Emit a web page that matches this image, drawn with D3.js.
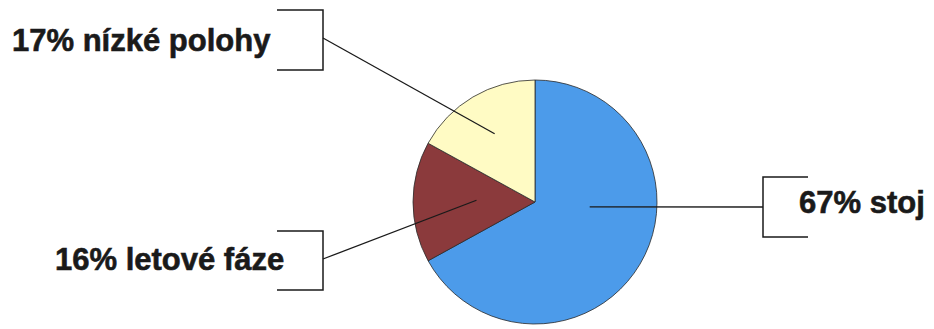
<!DOCTYPE html>
<html>
<head>
<meta charset="utf-8">
<script src="https://cdn.jsdelivr.net/npm/d3@7"></script>
<style>
  html, body { margin: 0; padding: 0; background: #ffffff; }
  svg { display: block; }
  .lbl { font-family: "Liberation Sans", Arial, Helvetica, sans-serif; font-weight: bold; font-size: 31px; fill: #1a1a1a; stroke: #1a1a1a; stroke-width: 0.6px; }
</style>
</head>
<body>
<svg id="chart" width="934" height="329"></svg>
<script>
// Share of time per position
const categories = ["stoj", "letové fáze", "nízké polohy"];
const shares = [67, 16, 17];
const sliceColors = ["#4c9bea", "#8b3a3c", "#fffbc4"];

// Label layout: text origin, bracket (x of vertical, top/bottom y, arm direction),
// and where the leader touches the slice (fraction along slice, radius fraction)
const labelLayout = [
  { tx: 799, ty: 213, bx: 763, by0: 177, by1: 237, my: 207, arm: 45,  anchorT: 0.394, anchorR: 0.45 },
  { tx: 55,  ty: 270, bx: 323, by0: 231, by1: 290, my: 259, arm: -46, anchorT: 0.53,  anchorR: 0.48 },
  { tx: 12,  ty: 51,  bx: 323, by0: 10,  by1: 70,  my: 38,  arm: -46, anchorT: 0.50,  anchorR: 0.65 }
];

const svg = d3.select("#chart");
const cx = 535, cy = 202, radius = 122;

const pie = d3.pie().sort(null).value(d => d)(shares);
const arc = d3.arc().innerRadius(0).outerRadius(radius);

const g = svg.append("g").attr("transform", `translate(${cx},${cy})`);

g.selectAll("path.slice")
  .data(pie)
  .join("path")
  .attr("class", "slice")
  .attr("d", arc)
  .attr("fill", (d, i) => sliceColors[i])
  .attr("stroke", "#2a2a2a")
  .attr("stroke-width", 0.8);

// Leader lines, brackets and labels
pie.forEach((d, i) => {
  const L = labelLayout[i];
  const a = d.startAngle + (d.endAngle - d.startAngle) * L.anchorT;
  const r = radius * L.anchorR;
  const ax = cx + Math.sin(a) * r;
  const ay = cy - Math.cos(a) * r;

  svg.append("line")
    .attr("x1", ax).attr("y1", ay)
    .attr("x2", L.bx).attr("y2", L.my)
    .attr("stroke", "#1a1a1a").attr("stroke-width", 1.3);

  svg.append("path")
    .attr("d", `M${L.bx + L.arm},${L.by0}H${L.bx}V${L.by1}H${L.bx + L.arm}`)
    .attr("fill", "none")
    .attr("stroke", "#1a1a1a")
    .attr("stroke-width", 1.5);

  svg.append("text")
    .attr("class", "lbl")
    .attr("x", L.tx).attr("y", L.ty)
    .text(`${shares[i]}% ${categories[i]}`);
});
</script>
</body>
</html>
